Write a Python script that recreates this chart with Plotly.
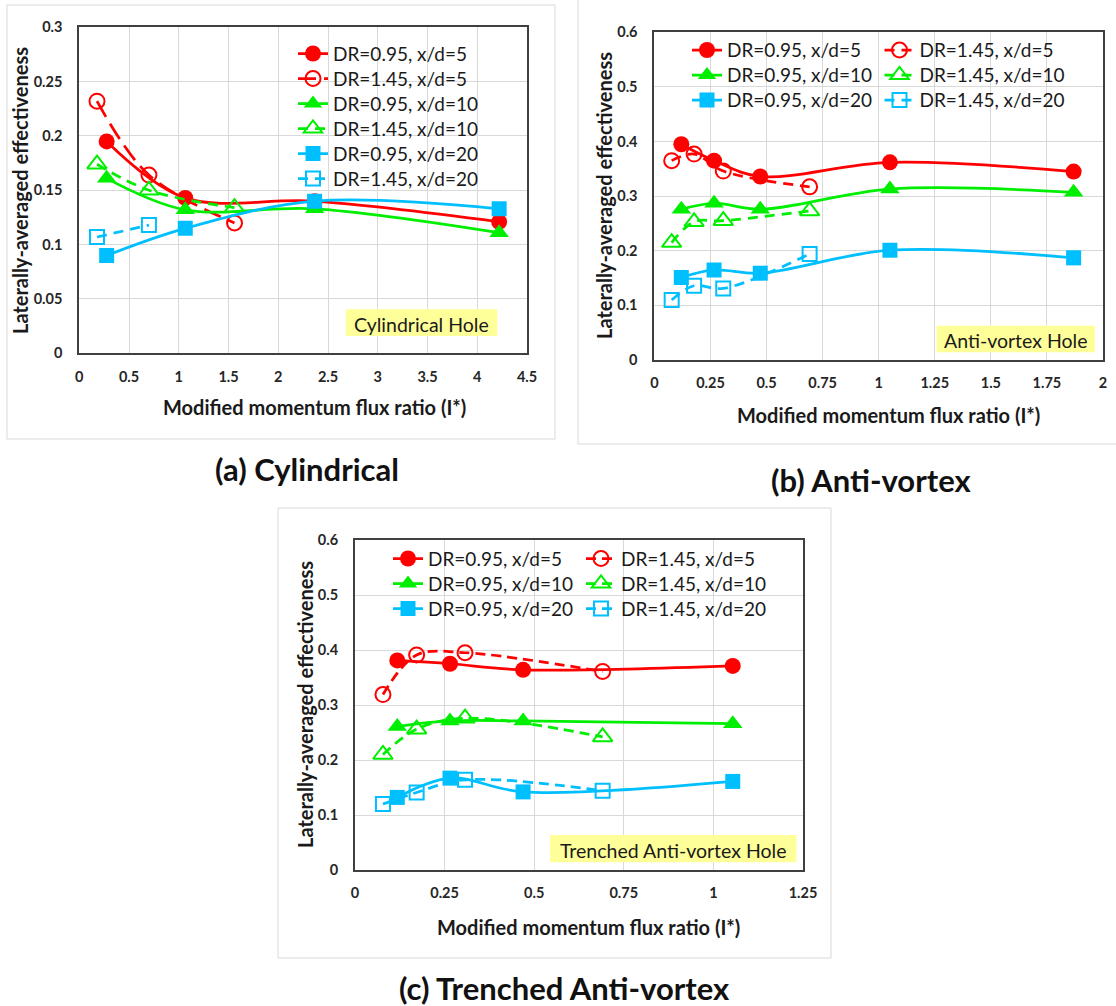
import plotly.graph_objects as go

W, H = 1116, 1006

# ---------------- data: laterally-averaged effectiveness vs I* ----------------
series_names = ["DR=0.95, x/d=5", "DR=1.45, x/d=5",
                "DR=0.95, x/d=10", "DR=1.45, x/d=10",
                "DR=0.95, x/d=20", "DR=1.45, x/d=20"]

# (a) Cylindrical hole
cyl_I_dr095 = [0.275, 1.065, 2.365, 4.22]
cyl_I_dr145 = [0.178, 0.70, 1.56]
cyl_I_dr145_xd20 = [0.178, 0.70]
cyl_eta_dr095_xd5 = [0.195, 0.143, 0.140, 0.121]
cyl_eta_dr145_xd5 = [0.232, 0.164, 0.120]
cyl_eta_dr095_xd10 = [0.161, 0.132, 0.133, 0.111]
cyl_eta_dr145_xd10 = [0.174, 0.150, 0.134]
cyl_eta_dr095_xd20 = [0.090, 0.115, 0.140, 0.133]
cyl_eta_dr145_xd20 = [0.107, 0.118]

# (b) Anti-vortex hole
av_I_dr095 = [0.12, 0.266, 0.472, 1.05, 1.869]
av_I_dr145 = [0.077, 0.177, 0.307, 0.692]
av_eta_dr095_xd5 = [0.395, 0.365, 0.336, 0.362, 0.345]
av_eta_dr145_xd5 = [0.365, 0.377, 0.346, 0.317]
av_eta_dr095_xd10 = [0.276, 0.287, 0.276, 0.313, 0.307]
av_eta_dr145_xd10 = [0.215, 0.253, 0.255, 0.273]
av_eta_dr095_xd20 = [0.151, 0.165, 0.159, 0.201, 0.187]
av_eta_dr145_xd20 = [0.110, 0.136, 0.131, 0.194]

# (c) Trenched anti-vortex hole
tav_I_dr095 = [0.118, 0.265, 0.469, 1.054]
tav_I_dr145 = [0.078, 0.172, 0.307, 0.691]
tav_eta_dr095_xd5 = [0.381, 0.375, 0.364, 0.371]
tav_eta_dr145_xd5 = [0.319, 0.391, 0.395, 0.361]
tav_eta_dr095_xd10 = [0.261, 0.271, 0.271, 0.266]
tav_eta_dr145_xd10 = [0.210, 0.256, 0.276, 0.242]
tav_eta_dr095_xd20 = [0.132, 0.167, 0.142, 0.161]
tav_eta_dr145_xd20 = [0.120, 0.141, 0.164, 0.144]

x_ranges = [[0, 4.5], [0, 2], [0, 1.25]]
x_dticks = [0.5, 0.25, 0.25]
y_ranges = [[0, 0.3], [0, 0.6], [0, 0.6]]
y_dticks = [0.05, 0.1, 0.1]

panel_captions = ["(a) Cylindrical", "(b) Anti-vortex", "(c) Trenched Anti-vortex"]
hole_labels = ["Cylindrical Hole", "Anti-vortex Hole", "Trenched Anti-vortex Hole"]
x_title = "Modified momentum flux ratio (I*)"
y_title = "Laterally-averaged effectiveness"

panel_data = [
    [(cyl_I_dr095, cyl_eta_dr095_xd5), (cyl_I_dr145, cyl_eta_dr145_xd5),
     (cyl_I_dr095, cyl_eta_dr095_xd10), (cyl_I_dr145, cyl_eta_dr145_xd10),
     (cyl_I_dr095, cyl_eta_dr095_xd20), (cyl_I_dr145_xd20, cyl_eta_dr145_xd20)],
    [(av_I_dr095, av_eta_dr095_xd5), (av_I_dr145, av_eta_dr145_xd5),
     (av_I_dr095, av_eta_dr095_xd10), (av_I_dr145, av_eta_dr145_xd10),
     (av_I_dr095, av_eta_dr095_xd20), (av_I_dr145, av_eta_dr145_xd20)],
    [(tav_I_dr095, tav_eta_dr095_xd5), (tav_I_dr145, tav_eta_dr145_xd5),
     (tav_I_dr095, tav_eta_dr095_xd10), (tav_I_dr145, tav_eta_dr145_xd10),
     (tav_I_dr095, tav_eta_dr095_xd20), (tav_I_dr145, tav_eta_dr145_xd20)],
]

# ---------------- styling ----------------
FONT = "Lato"
INK = "#1a1a1a"
RED, GREEN, BLUE = "#FF0000", "#00EE00", "#00BFFF"
series_style = [
    dict(color=RED, symbol="circle", size=16),
    dict(color=RED, symbol="circle-open", size=15),
    dict(color=GREEN, symbol="triangle-up", size=17),
    dict(color=GREEN, symbol="triangle-up-open", size=17),
    dict(color=BLUE, symbol="square", size=15),
    dict(color=BLUE, symbol="square-open", size=14),
]
# dash pattern of the DR=1.45 curves, per panel (x/d = 5, 10, 20)
dash_patterns = [
    ["18px,8px", "10px,7px", "10px,7px"],
    ["10px,7px", "10px,7px", "10px,7px"],
    ["10px,6px", "10px,6px", "10px,6px"],
]

# plot-area rectangles in pixels (left, right, top, bottom)
plot_boxes = [(79.3, 527.0, 27.3, 353.3),
              (654.4, 1103.0, 32.3, 360.0),
              (355.0, 803.0, 540.0, 870.0)]
# outer chart frames (left, right, top, bottom)
frames = [(7, 555, 5, 439), (578, 1122, -5, 444), (278, 831, 508, 958)]
# yellow label boxes (left, right, top, bottom)
label_boxes = [(345.7, 497.3, 309.3, 336.0),
               (936.6, 1095.0, 325.7, 352.3),
               (550.0, 796.4, 835.0, 862.3)]
x_title_pos = [(314, 407), (888.5, 415), (588.6, 926.7)]
y_title_pos = [(20, 191), (604, 196), (305, 705)]
caption_pos = [(307, 469), (871, 480), (564, 988)]

LEG_FS = 19


def legend_anchor(panel, i):
    """Start of the legend symbol line and row centre (pixels) for entry i."""
    if panel == 0:
        return 298.0, 53.5 + 25 * i
    row, col = i // 2, i % 2
    if panel == 1:
        return (692.0, 884.5)[col], 50.0 + 25 * row
    return (393.0, 586.0)[col], 558.5 + 25 * row


def fx(px):
    return px / W


def fy(py):
    return 1 - py / H


fig = go.Figure()
legends = {}
shapes = []
annotations = []
layout_axes = {}

for p in range(3):
    sfx = "" if p == 0 else str(p + 1)
    l, r, t, b = plot_boxes[p]
    for i, (xs, ys) in enumerate(panel_data[p]):
        st = series_style[i]
        k = p * 6 + i
        leg_id = "legend" if k == 0 else f"legend{k + 1}"
        open_marker = st["symbol"].endswith("open")
        fig.add_trace(go.Scatter(
            x=xs, y=ys, name=series_names[i], mode="lines+markers",
            xaxis="x" + sfx, yaxis="y" + sfx, legend=leg_id,
            line=dict(color=st["color"], width=2.75, shape="spline", smoothing=1,
                      dash=dash_patterns[p][i // 2] if open_marker else "solid"),
            marker=dict(symbol=st["symbol"], size=st["size"], color=st["color"],
                        line=dict(color=st["color"], width=2 if open_marker else 0)),
        ))
        lx, ly = legend_anchor(p, i)
        h = 1.3 * LEG_FS + 3
        legends[leg_id] = dict(
            x=fx(lx - 5), y=fy(ly - 5 - h / 2), xanchor="left", yanchor="top",
            bgcolor="rgba(0,0,0,0)", borderwidth=0, itemclick=False, itemdoubleclick=False,
            font=dict(family=FONT, size=LEG_FS, color=INK),
        )

    axis_common = dict(
        showline=True, linecolor="#404040", linewidth=2, mirror=True,
        showgrid=True, gridcolor="#d9d9d9", gridwidth=1, zeroline=False,
        ticks="", fixedrange=True, tick0=0, automargin=False,
        tickfont=dict(family=FONT, size=14.5, color="#262626", weight="bold"),
    )
    layout_axes["xaxis" + sfx] = dict(
        axis_common, domain=[fx(l), fx(r)], range=x_ranges[p], dtick=x_dticks[p],
        anchor="y" + sfx, ticklabelstandoff=9)
    layout_axes["yaxis" + sfx] = dict(
        axis_common, domain=[fy(b), fy(t)], range=y_ranges[p], dtick=y_dticks[p],
        anchor="x" + sfx, ticklabelstandoff=12)

    fl, fr, ft, fb = frames[p]
    shapes.append(dict(type="rect", xref="paper", yref="paper", x0=fx(fl), x1=fx(fr),
                       y0=fy(fb), y1=fy(ft), line=dict(color="#d9d9d9", width=1),
                       fillcolor="rgba(0,0,0,0)", layer="below"))
    bl, br, bt, bb = label_boxes[p]
    shapes.append(dict(type="rect", xref="paper", yref="paper", x0=fx(bl), x1=fx(br),
                       y0=fy(bb), y1=fy(bt), line=dict(width=0),
                       fillcolor="#FFFF99", layer="above"))
    annotations.append(dict(text=hole_labels[p], x=fx((bl + br) / 2), y=fy((bt + bb) / 2 + 1.5),
                            xref="paper", yref="paper", xanchor="center", yanchor="middle",
                            showarrow=False, font=dict(family=FONT, size=19.5, color=INK)))
    annotations.append(dict(text=x_title, x=fx(x_title_pos[p][0]), y=fy(x_title_pos[p][1]),
                            xref="paper", yref="paper", xanchor="center", yanchor="middle",
                            showarrow=False,
                            font=dict(family=FONT, size=20, color=INK, weight="bold")))
    annotations.append(dict(text=y_title, x=fx(y_title_pos[p][0]), y=fy(y_title_pos[p][1]),
                            xref="paper", yref="paper", xanchor="center", yanchor="middle",
                            showarrow=False, textangle=-90,
                            font=dict(family=FONT, size=20, color=INK, weight="bold")))
    annotations.append(dict(text=panel_captions[p], x=fx(caption_pos[p][0]), y=fy(caption_pos[p][1]),
                            xref="paper", yref="paper", xanchor="center", yanchor="middle",
                            showarrow=False,
                            font=dict(family=FONT, size=31, color="#111111", weight="bold")))

fig.update_layout(
    width=W, height=H, autosize=False,
    # fixed layout: legends must not push the margins
    margin=dict(l=0, r=0, t=0, b=0, autoexpand=False),
    paper_bgcolor="white", plot_bgcolor="white",
    showlegend=True,
    shapes=shapes, annotations=annotations,
    **layout_axes, **legends,
)

fig.write_html("out.html")
